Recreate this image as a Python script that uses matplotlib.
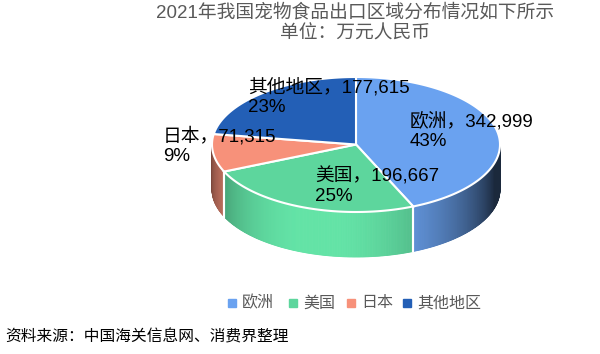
import numpy as np
import matplotlib
matplotlib.use("Agg")
import matplotlib.pyplot as plt
from matplotlib.colors import to_rgb
from matplotlib.patches import Rectangle

plt.rcParams['font.family'] = ['Liberation Sans', 'Noto Sans CJK SC', 'DejaVu Sans']

# 数据
regions = ["欧洲", "美国", "日本", "其他地区"]
values = [342999, 196667, 71315, 177615]
colors = ["#6AA2F0", "#5DD69D", "#F7917A", "#235FB6"]

title1 = "2021年我国宠物食品出口区域分布情况如下所示"
title2 = "单位：万元人民币"
source = "资料来源：中国海关信息网、消费界整理"

fig = plt.figure(figsize=(6, 3.54), dpi=100)
ax = fig.add_axes([0, 0, 1, 1])
ax.set_xlim(0, 600)
ax.set_ylim(354, 0)
ax.axis("off")

# 伪3D饼图参数（像素坐标）
cx, cy = 356, 144.5
a, b = 144, 67.5
depth = 45

total = sum(values)
fracs = [v / total for v in values]
starts = []
ang = 90.0
for f in fracs:
    starts.append(ang)
    ang -= f * 360


def pt(theta_deg, dz=0.0):
    t = np.radians(theta_deg)
    return cx + a * np.cos(t), cy - b * np.sin(t) + dz


def shade(color, theta):
    diff = np.radians(theta - (-105))
    k = 0.25 + 0.82 * max(np.cos(diff), 0)
    c = np.array(to_rgb(color)) * min(k, 1.06)
    return np.clip(c, 0, 1)


# 侧面
for i, f in enumerate(fracs):
    lo, hi = starts[i] - f * 360, starts[i]
    for off in (0, -360, 360):
        l2, h2 = max(lo + off, -180), min(hi + off, 0)
        if h2 <= l2:
            continue
        n = int((h2 - l2) * 2) + 2
        edges = np.linspace(l2, h2, n)
        for e0, e1 in zip(edges[:-1], edges[1:]):
            ts = np.linspace(e0, e1, 3)
            xs_top, ys_top = pt(ts)
            xs_bot, ys_bot = pt(ts[::-1], depth)
            c = shade(colors[i], (e0 + e1) / 2)
            ax.fill(np.r_[xs_top, xs_bot], np.r_[ys_top, ys_bot],
                    color=c, lw=0.6, ec=c, zorder=1)
        for tb in (l2, h2):
            if -179 < tb < -1:
                x0, y0 = pt(tb)
                ax.plot([x0, x0], [y0, y0 + depth], color="white", lw=1.5, zorder=2)

# 顶面
for i, f in enumerate(fracs):
    ts = np.linspace(starts[i], starts[i] - f * 360, 200)
    xs, ys = pt(ts)
    ax.fill(np.r_[cx, xs, cx], np.r_[cy, ys, cy], color=colors[i],
            ec="white", lw=1.5, zorder=3)

# 标签
label_pos = [(410, 131), (315, 186), (163, 146), (248, 97)]
for i, (x, y) in enumerate(label_pos):
    txt = "{}，{:,}\n{:.0%}".format(regions[i], values[i], fracs[i])
    ax.text(x, y, txt, fontsize=13.5, color="black", ha="left", va="center",
            linespacing=1.2, zorder=5)

# 标题
ax.text(355, 13, title1, fontsize=13.5, color="#595959", ha="center", va="center")
ax.text(355, 34, title2, fontsize=13.5, color="#595959", ha="center", va="center")

# 图例
leg_x = [228, 289, 347, 403]
for i, x in enumerate(leg_x):
    ax.add_patch(Rectangle((x, 299), 8, 8, color=colors[i], zorder=5))
    ax.text(x + 14, 303, regions[i], fontsize=11.5, color="#595959",
            ha="left", va="center")

# 来源
ax.text(5, 337, source, fontsize=11.3, color="black", ha="left", va="center")

fig.savefig("out.png", dpi=100)
